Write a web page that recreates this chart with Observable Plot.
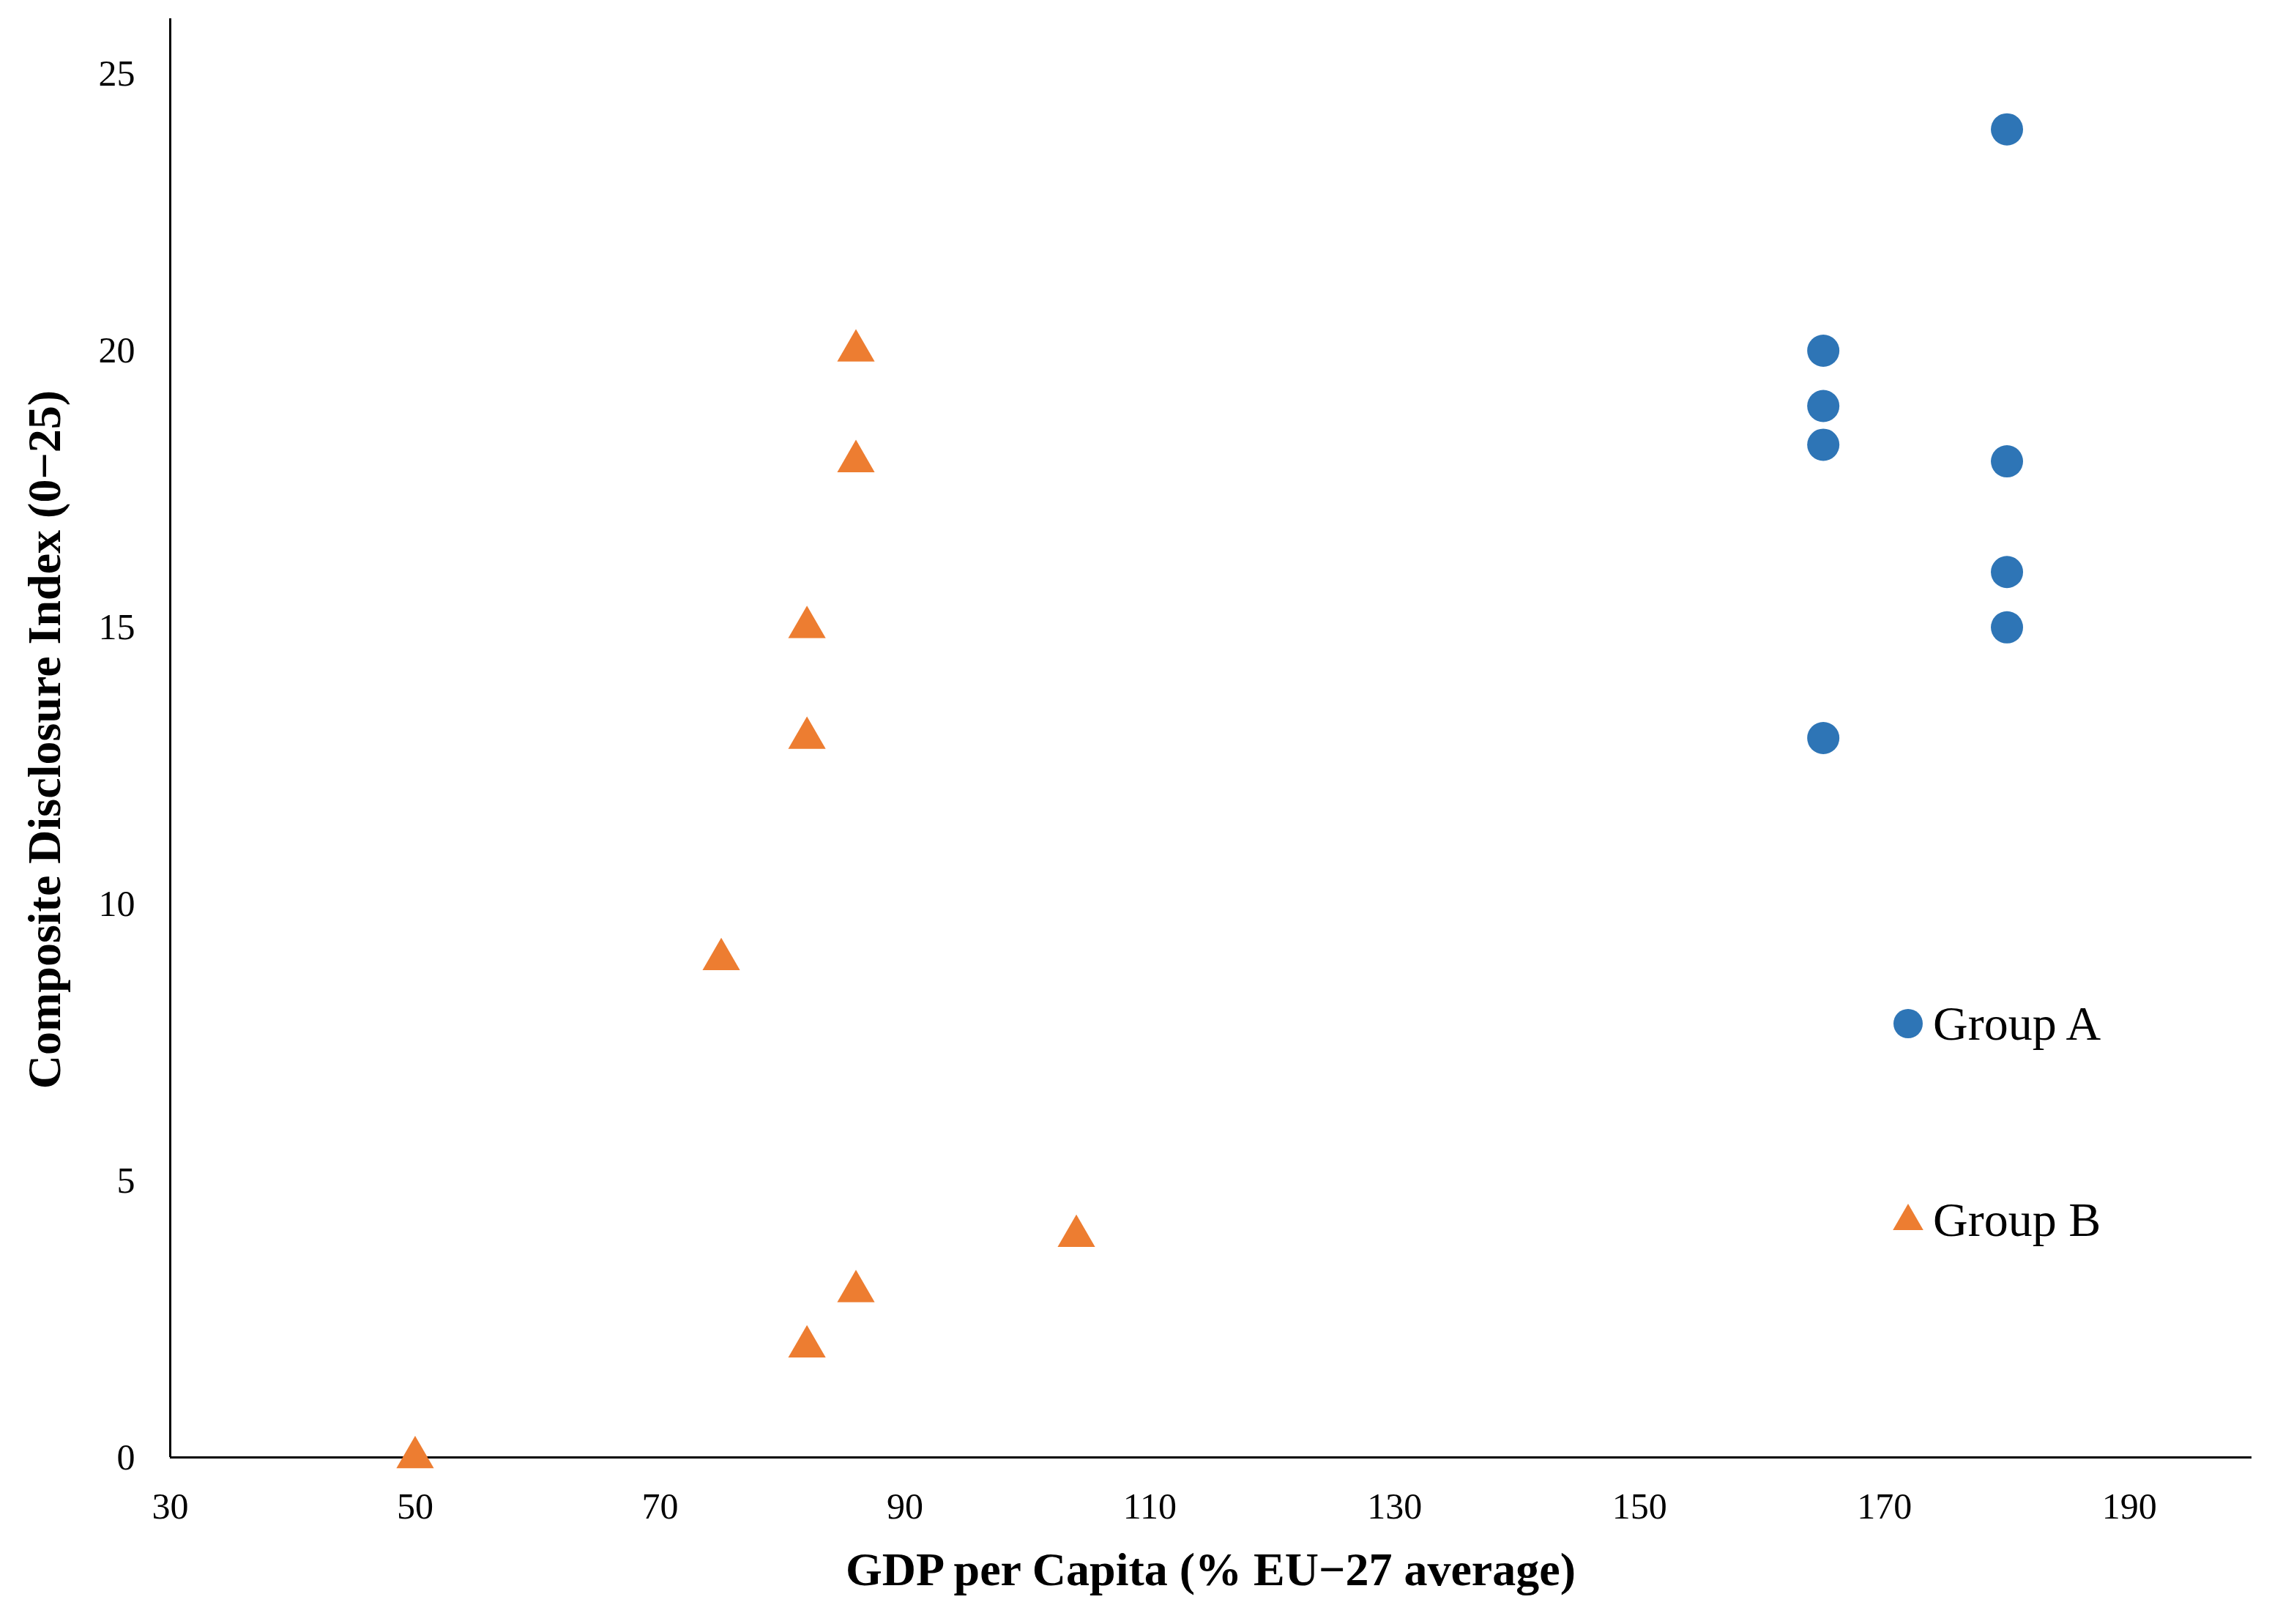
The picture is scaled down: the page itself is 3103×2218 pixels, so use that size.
<!DOCTYPE html>
<html><head><meta charset="utf-8">
<script src="https://cdn.jsdelivr.net/npm/d3@7"></script>
<script src="https://cdn.jsdelivr.net/npm/@observablehq/plot@0.6"></script>
<style>body{margin:0;background:#fff;font-family:"Liberation Serif",serif}#wrap{position:relative;width:3103px;height:2218px}</style>
</head><body><div id="wrap"></div>
<script>
const groupAx = [165,165,165,165,180,180,180,180];
const groupAy = [20,19,18.3,13,24,18,16,15];
const groupBx = [86,86,82,82,75,104,86,82,50];
const groupBy = [20,18,15,13,9,4,3,2,0];
const xTicks = [30,50,70,90,110,130,150,170,190];
const yTicks = [0,5,10,15,20,25];
const A = groupAx.map((x,i)=>({x,y:groupAy[i]}));
const B = groupBx.map((x,i)=>({x,y:groupBy[i]}));
const chart = Plot.plot({
  width:3103,height:2218,marginLeft:232,marginBottom:228,marginTop:25,marginRight:28,
  style:{fontFamily:"Liberation Serif, serif",fontSize:"50px",color:"#000",background:"#fff"},
  x:{domain:[30,200],ticks:xTicks,tickSize:0,tickPadding:48,label:null},
  y:{domain:[0,26],ticks:yTicks,tickSize:0,tickPadding:48,label:null},
  marks:[
    Plot.ruleX([30],{stroke:"#000",strokeWidth:3}),
    Plot.ruleY([0],{stroke:"#000",strokeWidth:3}),
    Plot.dot(A,{x:"x",y:"y",r:22,fill:"#2E75B6",symbol:"circle"}),
    Plot.dot(B,{x:"x",y:"y",r:19,fill:"#ED7D31",symbol:"triangle"})
  ]
});
const wrap=document.getElementById("wrap");
wrap.appendChild(chart);
const s=d3.select(chart);
s.append("text").attr("x",(232+3075)/2).attr("y",2165).attr("text-anchor","middle")
 .attr("font-size",64).attr("font-weight","bold").text("GDP per Capita (% EU\u221227 average)");
s.append("text").attr("transform","translate(82,1010) rotate(-90)").attr("text-anchor","middle")
 .attr("font-size",64).attr("font-weight","bold").text("Composite Disclosure Index (0\u221225)");
const lg=s.append("g").attr("text-anchor","start");
lg.append("circle").attr("cx",2606).attr("cy",1398).attr("r",20).attr("fill","#2E75B6");
lg.append("path").attr("d",d3.symbol(d3.symbolTriangle,750)()).attr("transform","translate(2606,1668)").attr("fill","#ED7D31");
lg.append("text").attr("x",2640).attr("y",1420).attr("font-size",66).text("Group A");
lg.append("text").attr("x",2640).attr("y",1688).attr("font-size",66).text("Group B");
</script></body></html>
